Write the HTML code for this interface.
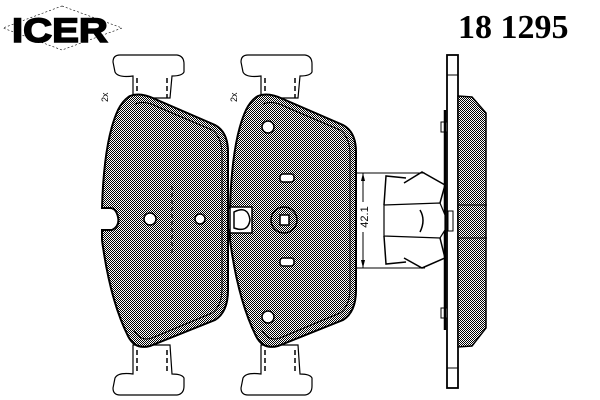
<!DOCTYPE html>
<html><head><style>body{margin:0;background:#fff}svg{display:block}</style></head><body>
<svg width="600" height="400" viewBox="0 0 600 400" xmlns="http://www.w3.org/2000/svg">
<defs>
<pattern id="h" width="2" height="2" patternUnits="userSpaceOnUse"><rect width="2" height="2" fill="#fff"/><rect width="1" height="1" fill="#000"/><rect x="1" y="1" width="1" height="1" fill="#000"/></pattern>
<g id="pad">
<path d="M113,62 Q113,55 120,55 L177,55 Q184,56 184,64 L184,72 Q182,76 172,76 L170,98 L133,98 L133,76 Q118,78 115,72 Z" fill="#fff" stroke="#000" stroke-width="1.2"/>
<path d="M113,388 Q113,395 120,395 L177,395 Q184,394 184,386 L184,378 Q182,374 172,374 L170,345 L133,345 L133,374 Q118,372 115,378 Z" fill="#fff" stroke="#000" stroke-width="1.2"/>
<path d="M137,78 V98 M167,78 V98 M137,350 V372 M167,350 V372" stroke="#000" stroke-width="1.5" stroke-dasharray="5,3"/>
<path d="M130,96 Q140,92 155,99 L215,125 Q228,132 228,152 L228,290 Q228,312 215,320 L150,346 Q135,350 128,336 Q110,300 102,240 L102,230 L112,230 Q120,226 118,217 Q116,208 110,208 L102,208 Q104,140 118,110 Q123,100 130,96 Z" fill="url(#h)" stroke="#000" stroke-width="2"/>
<path d="M135,104 Q145,100 158,107 L212,130 Q222,137 222,155 L222,288 Q222,306 212,313 L152,338 Q140,342 134,330" fill="none" stroke="#000" stroke-width="1"/>
</g>
</defs>
<text x="12" y="42" font-family="Liberation Sans, sans-serif" font-weight="bold" font-size="34" stroke="#000" stroke-width="1.5" transform="translate(12 42) scale(1.18,1) translate(-12 -42)">ICER</text>
<path d="M62,6 L122,28 L62,50 L3,28 Z" fill="none" stroke="#000" stroke-width="0.6" stroke-dasharray="2,2"/>
<text x="458" y="38" font-family="Liberation Serif, serif" font-weight="bold" font-size="34">18 1295</text>
<use href="#pad"/>
<use href="#pad" transform="translate(128,0)"/>
<circle cx="150" cy="219" r="6" fill="#fff" stroke="#000" stroke-width="1.5"/>
<circle cx="200" cy="219" r="5" fill="#fff" stroke="#000" stroke-width="1.5"/>
<path d="M172,186 V254" stroke="#000" stroke-width="1" stroke-dasharray="4,3"/>
<rect x="230" y="207" width="22" height="26" fill="#fff" stroke="#000" stroke-width="1.5"/>
<path d="M234,212 Q248,205 250,220 Q248,233 234,228 Z" fill="#fff" stroke="#000" stroke-width="1.5"/>
<text x="108" y="102" font-family="Liberation Sans, sans-serif" font-size="9" transform="rotate(-90 108 102)">2x</text>
<text x="237" y="102" font-family="Liberation Sans, sans-serif" font-size="9" transform="rotate(-90 237 102)">2x</text>
<circle cx="268" cy="127" r="6" fill="#fff" stroke="#000" stroke-width="1.5"/>
<circle cx="268" cy="317" r="6" fill="#fff" stroke="#000" stroke-width="1.5"/>
<rect x="280" y="174" width="14" height="8" rx="3" fill="#fff" stroke="#000" stroke-width="1.5"/>
<rect x="280" y="258" width="14" height="8" rx="3" fill="#fff" stroke="#000" stroke-width="1.5"/>
<circle cx="284" cy="220" r="13" fill="none" stroke="#000" stroke-width="1.5"/>
<rect x="280" y="215" width="9" height="10" fill="#fff" stroke="#000" stroke-width="1.5"/>
<!-- side view -->
<rect x="447" y="55" width="11" height="333" fill="#fff" stroke="#000" stroke-width="1.8"/>
<path d="M447,75 H458 M447,368 H458" stroke="#000"/>
<path d="M458,96 L472,97 L486,113 L486,328 L472,346 L458,347 Z" fill="url(#h)" stroke="#000" stroke-width="1.5"/>
<path d="M458,205 H487 M458,238 H487" stroke="#000"/>
<rect x="441" y="122" width="6" height="10" fill="#fff" stroke="#000"/>
<rect x="441" y="308" width="6" height="10" fill="#fff" stroke="#000"/>
<rect x="448" y="211" width="5" height="20" fill="#fff" stroke="#000"/>
<path d="M445,110 L445,330" stroke="#000" stroke-width="2.5"/>
<!-- clip -->
<path d="M384,205 L440,203 L445,215 L445,230 L440,238 L384,236 Z" fill="#fff" stroke="#000" stroke-width="1.2"/>
<path d="M420,210 Q426,220 420,232 M384,205 L386,176 L406,178 M440,203 L445,185 L422,172 L404,183 M384,236 L386,264 L406,262 M440,238 L445,258 L422,268 L404,258" fill="none" stroke="#000" stroke-width="1.5"/>
<!-- dimension -->
<path d="M363,173 V268 M357,173 H425 M357,268 H425" stroke="#000" stroke-width="1"/>
<path d="M363,173 L361,181 L365,181 Z M363,268 L361,260 L365,260 Z" fill="#000"/>
<rect x="358" y="202" width="11" height="30" fill="#fff"/>
<text x="368" y="217" text-anchor="middle" font-family="Liberation Sans, sans-serif" font-size="11" transform="rotate(-90 368 217)">42.1</text>
</svg>
</body></html>
